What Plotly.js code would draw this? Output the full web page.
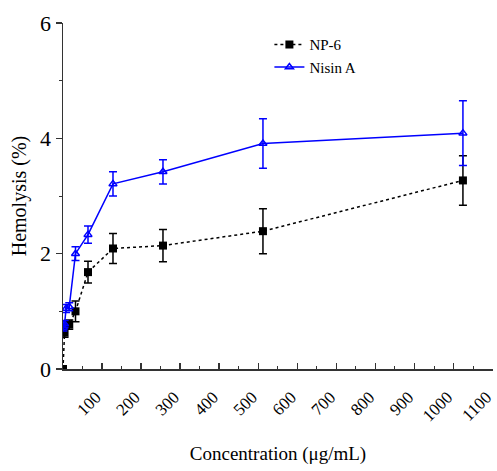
<!DOCTYPE html>
<html>
<head>
<meta charset="utf-8">
<script src="https://cdn.plot.ly/plotly-3.0.1.min.js"></script>
<style>html,body{margin:0;padding:0;background:#fff;}#chart{width:497px;height:471px;}</style>
</head>
<body>
<div id="chart"></div>
<script>
// Concentrations (µg/mL)
const np6Conc = [0, 4, 16, 32, 64, 128, 256, 512, 1024];
const np6Values = [0.0, 0.63, 0.77, 1.0, 1.68, 2.09, 2.14, 2.39, 3.27];
const np6Err = [0.02, 0.08, 0.08, 0.18, 0.19, 0.26, 0.28, 0.39, 0.43];

const nisinConc = [1, 4, 8, 16, 32, 64, 128, 256, 512, 1024];
const nisinValues = [0.72, 0.78, 1.05, 1.08, 2.0, 2.33, 3.21, 3.42, 3.91, 4.09];
const nisinErr = [0.06, 0.06, 0.07, 0.07, 0.12, 0.15, 0.21, 0.21, 0.43, 0.56];

const xTickVals = [100, 200, 300, 400, 500, 600, 700, 800, 900, 1000, 1100];
const yTickVals = [0, 2, 4, 6];

const serif = 'Liberation Serif';

const traces = [
  {
    x: np6Conc, y: np6Values, name: 'NP-6', type: 'scatter', mode: 'lines+markers',
    line: {color: '#000', dash: 'dot', width: 1.5},
    marker: {symbol: 'square', size: 8, color: '#000'},
    error_y: {type: 'data', array: np6Err, visible: true, color: '#000', thickness: 1.5, width: 4}
  },
  {
    x: nisinConc, y: nisinValues, name: 'Nisin A', type: 'scatter', mode: 'lines+markers',
    line: {color: '#0000ff', width: 1.5},
    marker: {symbol: 'triangle-up-open', size: 7, color: '#0000ff', line: {width: 1.5}},
    error_y: {type: 'data', array: nisinErr, visible: true, color: '#0000ff', thickness: 1.5, width: 4}
  }
];

const layout = {
  width: 497, height: 471,
  margin: {l: 63, r: 4, t: 23, b: 102},
  paper_bgcolor: '#fff', plot_bgcolor: '#fff',
  font: {family: serif, color: '#000'},
  showlegend: true,
  legend: {x: 0.48, y: 0.985, xanchor: 'left', yanchor: 'top', bgcolor: 'rgba(0,0,0,0)',
           font: {family: serif, size: 15, color: '#000'}, tracegroupgap: 0, itemwidth: 30},
  xaxis: {
    range: [0, 1101], tickvals: xTickVals, ticktext: xTickVals.map(String),
    tickangle: -45, ticks: 'inside', ticklen: 6, tickwidth: 1.5, tickcolor: '#333',
    minor: {dtick: 50, tick0: 0, ticks: 'inside', ticklen: 3, tickwidth: 1, tickcolor: '#333'},
    showline: true, linecolor: '#333', linewidth: 1.5, showgrid: false, zeroline: false,
    tickfont: {family: serif, size: 17, color: '#000'},
    ticklabelstandoff: 10,
    ticklabelshift: -6,
    ticklabeloverflow: 'allow',
    title: {text: 'Concentration (μg/mL)', font: {family: serif, size: 19, color: '#000'}, standoff: 22}
  },
  yaxis: {
    range: [0, 6], tickvals: yTickVals, ticks: 'outside', ticklen: 6, tickwidth: 1.5, tickcolor: '#333',
    minor: {dtick: 1, tick0: 0, ticks: 'outside', ticklen: 3, tickwidth: 1, tickcolor: '#333'},
    showline: true, linecolor: '#333', linewidth: 1.5, showgrid: false, zeroline: false,
    tickfont: {family: serif, size: 22, color: '#000'},
    title: {text: 'Hemolysis (%)', font: {family: serif, size: 20, color: '#000'}, standoff: 8}
  }
};

Plotly.newPlot('chart', traces, layout, {displayModeBar: false, staticPlot: true});
</script>
</body>
</html>
